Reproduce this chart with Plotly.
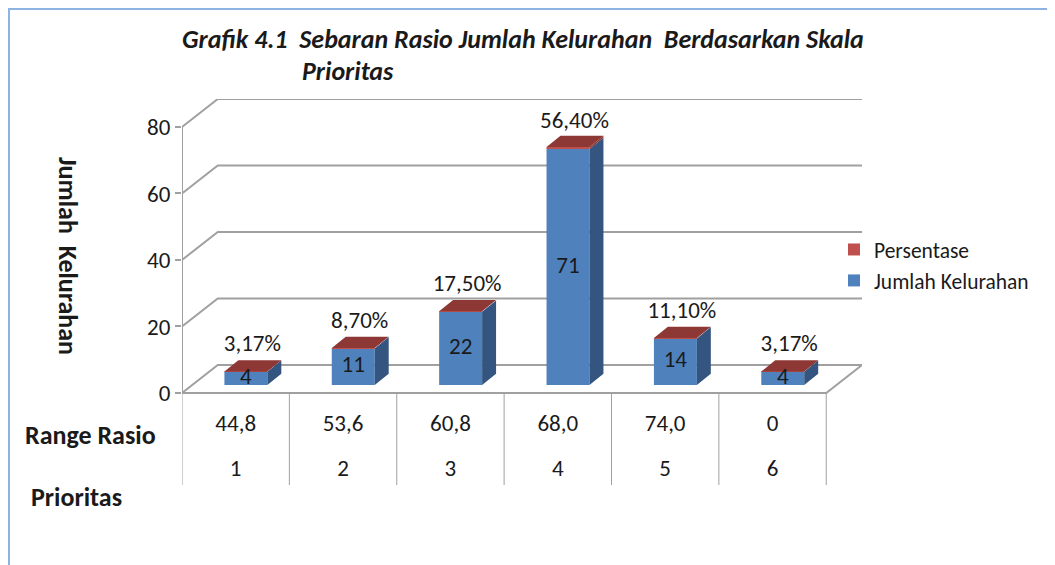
import plotly.graph_objects as go

# --- Data ---
PRIORITAS = ["1", "2", "3", "4", "5", "6"]
RANGE_RASIO = ["44,8", "53,6", "60,8", "68,0", "74,0", "0"]
JUMLAH = [4, 11, 22, 71, 14, 4]
PERSEN = [3.17, 8.70, 17.50, 56.40, 11.10, 3.17]
Y_TICKS = [0, 20, 40, 60, 80]

# --- 3D look (data units) ---
DX, DY = 0.333, 8.42      # wall / floor depth
BX, BY = 0.095, 2.4       # bar front offset from front plane
SX, SY = 0.13, 3.4        # bar depth
BW = 0.4
YMIN, YMAX = -27.7, 80 + DY
XMIN, XMAX = -0.5, len(JUMLAH) - 0.5 + DX

BLUE, BLUE_SIDE = "#4f81bd", "#34557f"
RED, RED_TOP = "#c0504d", "#8e3835"
GRID = "#a0a0a0"
INK = "#1a1a1a"
FONT = "Carlito, Lato, sans-serif"
REG, BOLD = 23, 26

# plot area in page pixels (the page body adds an 8px margin)
PAGE = 8
L, T, W, H = 182, 99, 680, 386
FW, FH = 1055 - PAGE, 565 - PAGE


def px(x):
    return (x - L) / W


def py(y):
    return (T + H - y) / H


xs = list(range(len(JUMLAH)))
bar_x = [i + BX for i in xs]
pct = [p / 100 for p in PERSEN]

fig = go.Figure()

# front faces
fig.add_trace(go.Bar(x=bar_x, y=JUMLAH, base=[BY] * len(xs), width=BW,
                     marker=dict(color=BLUE, line=dict(width=0)),
                     name="Jumlah Kelurahan"))
fig.add_trace(go.Bar(x=bar_x, y=pct, base=[BY + v for v in JUMLAH], width=BW,
                     marker=dict(color=RED, line=dict(width=0)),
                     name="Persentase"))

# side and top faces
side_bx, side_by, side_rx, side_ry, top_x, top_y = [], [], [], [], [], []
for i, v, p in zip(xs, JUMLAH, pct):
    x0 = i + BX - BW / 2
    x1 = i + BX + BW / 2
    y0, y1, y2 = BY, BY + v, BY + v + p
    side_bx += [x1, x1 + SX, x1 + SX, x1, x1, None]
    side_by += [y0, y0 + SY, y1 + SY, y1, y0, None]
    side_rx += [x1, x1 + SX, x1 + SX, x1, x1, None]
    side_ry += [y1, y1 + SY, y2 + SY, y2, y1, None]
    top_x += [x0, x1, x1 + SX, x0 + SX, x0, None]
    top_y += [y2, y2, y2 + SY, y2 + SY, y2, None]

for sx, sy, c in [(side_bx, side_by, BLUE_SIDE), (side_rx, side_ry, RED_TOP),
                  (top_x, top_y, RED_TOP)]:
    fig.add_trace(go.Scatter(x=sx, y=sy, mode="lines", fill="toself", fillcolor=c,
                             line=dict(width=0, color=c), showlegend=False,
                             hoverinfo="skip"))

# value labels
fig.add_trace(go.Scatter(x=bar_x, y=[BY + v / 2 for v in JUMLAH], mode="text",
                         text=[str(v) for v in JUMLAH],
                         textfont=dict(family=FONT, size=REG, color=INK),
                         showlegend=False, hoverinfo="skip"))
fig.add_trace(go.Scatter(x=[x + 0.06 for x in bar_x],
                         y=[BY + v + 8 for v in JUMLAH], mode="text",
                         text=[f"{p:.2f}%".replace(".", ",") for p in PERSEN],
                         textfont=dict(family=FONT, size=REG, color=INK),
                         showlegend=False, hoverinfo="skip"))

# table under the floor
fig.add_trace(go.Scatter(x=xs, y=[-9.6] * len(xs), mode="text", text=RANGE_RASIO,
                         textfont=dict(family=FONT, size=REG, color=INK),
                         showlegend=False, hoverinfo="skip"))
fig.add_trace(go.Scatter(x=xs, y=[-23.2] * len(xs), mode="text", text=PRIORITAS,
                         textfont=dict(family=FONT, size=REG, color=INK),
                         showlegend=False, hoverinfo="skip"))

# walls, floor, gridlines
shapes = []
for t in Y_TICKS:
    shapes.append(dict(type="path", layer="below",
                       path=f"M {XMIN},{t} L {XMIN + DX},{t + DY} L {XMAX},{t + DY}",
                       line=dict(color=GRID, width=2)))
n = len(JUMLAH)
shapes.append(dict(type="path", layer="below",
                   path=f"M {XMIN},0 L {n - 0.5},0 L {XMAX},{DY}",
                   line=dict(color=GRID, width=2)))
shapes.append(dict(type="line", layer="below", x0=XMIN, x1=XMIN, y0=0, y1=80,
                   line=dict(color=GRID, width=2)))
for k in range(n + 1):
    shapes.append(dict(type="line", layer="below", x0=k - 0.5, x1=k - 0.5,
                       y0=0, y1=YMIN, line=dict(color=GRID, width=1)))
# frame of the chart object
shapes.append(dict(type="line", xref="paper", yref="paper", x0=px(9), x1=px(9),
                   y0=py(8), y1=py(580), line=dict(color="#8db3e2", width=2)))
shapes.append(dict(type="line", xref="paper", yref="paper", x0=px(8), x1=px(1100),
                   y0=py(9), y1=py(9), line=dict(color="#8db3e2", width=2)))

title_font = dict(family=FONT, size=BOLD, color=INK, weight="bold", style="italic")
bold_font = dict(family=FONT, size=BOLD, color=INK, weight="bold")
annotations = [
    dict(text="Grafik 4.1\u00a0 Sebaran Rasio Jumlah Kelurahan\u00a0 Berdasarkan Skala",
         xref="paper", yref="paper", x=px(180), y=py(39), xanchor="left",
         yanchor="middle", showarrow=False, font=title_font),
    dict(text="Prioritas", xref="paper", yref="paper", x=px(300), y=py(71),
         xanchor="left", yanchor="middle", showarrow=False, font=title_font),
    dict(text="Jumlah\u00a0 Kelurahan", xref="paper", yref="paper", x=px(68), y=py(256),
         xanchor="center", yanchor="middle", textangle=90, showarrow=False,
         font=bold_font),
    dict(text="Range Rasio", xref="paper", yref="paper", x=px(90), y=py(435),
         xanchor="center", yanchor="middle", showarrow=False, font=bold_font),
    dict(text="Prioritas", xref="paper", yref="paper", x=px(76), y=py(497),
         xanchor="center", yanchor="middle", showarrow=False, font=bold_font),
]

fig.update_layout(
    width=FW, height=FH,
    margin=dict(l=L - PAGE, r=FW - (L - PAGE) - W, t=T - PAGE, b=FH - (T - PAGE) - H,
                autoexpand=False),
    paper_bgcolor="white", plot_bgcolor="white",
    barmode="overlay", showlegend=True,
    legend=dict(x=px(834), y=py(229), xanchor="left", yanchor="top",
                traceorder="reversed", font=dict(family=FONT, size=21.5, color=INK),
                bgcolor="rgba(0,0,0,0)", itemwidth=30, tracegroupgap=0),
    xaxis=dict(range=[XMIN, XMAX], visible=False, fixedrange=True),
    yaxis=dict(range=[YMIN, YMAX], tickvals=Y_TICKS, showgrid=False, zeroline=False,
               showline=False, ticks="outside", ticklen=6, tickcolor=GRID, tickwidth=2,
               tickfont=dict(family=FONT, size=REG, color=INK), fixedrange=True,
               automargin=False),
    shapes=shapes, annotations=annotations,
    hovermode=False,
)

fig.write_html("out.html")
